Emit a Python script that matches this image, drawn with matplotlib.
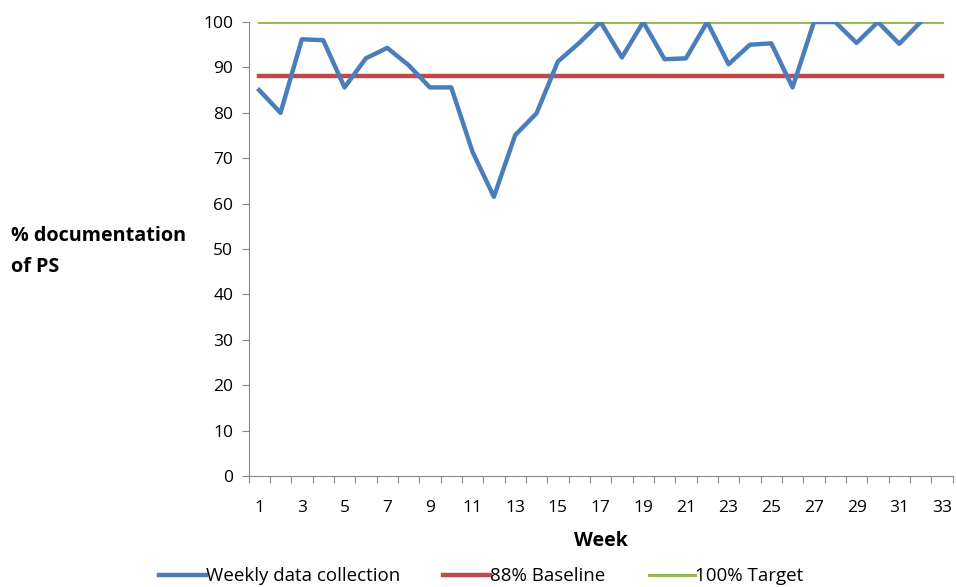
import numpy as np
import matplotlib
matplotlib.use("Agg")
import matplotlib.pyplot as plt
from matplotlib.ticker import FixedLocator

# 資料
weeks = list(range(1, 34))
weekly = [85.0, 80.0, 96.2, 96.0, 85.6, 92.0, 94.3, 90.5, 85.6, 85.6,
          71.4, 61.5, 75.1, 79.9, 91.3, 95.4, 100, 92.2, 100, 91.8,
          92.0, 100, 90.7, 95.0, 95.3, 85.6, 100, 100, 95.4, 100,
          95.2, 100]
baseline = [88] * 33
target = [100] * 33

plt.rcParams['font.family'] = ['Open Sans', 'DejaVu Sans']

fig = plt.figure(figsize=(9.57, 5.87), dpi=100)
ax = fig.add_axes([0.2597, 0.189, 0.7357, 0.7735])

l1, = ax.plot(weeks[:len(weekly)], weekly, color="#4A7EBB", lw=3.2,
              solid_joinstyle="round", label="Weekly data collection", zorder=3)
l2, = ax.plot(weeks, baseline, color="#BE4B48", lw=3.2, label="88% Baseline", zorder=2)
l3, = ax.plot(weeks, target, color="#98B954", lw=2.2, label="100% Target", zorder=2)

ax.set_xlim(0.5, 33.5)
ax.set_ylim(0, 100)
ax.set_yticks(range(0, 101, 10))

# 類別軸：刻度線在類別之間，標籤在奇數週
ax.xaxis.set_major_locator(FixedLocator(np.arange(0.5, 34, 1)))
ax.xaxis.set_major_formatter(plt.NullFormatter())
ax.xaxis.set_minor_locator(FixedLocator(weeks[::2]))
ax.set_xticklabels([str(w) for w in weeks[::2]], minor=True)
ax.tick_params(axis="x", which="major", direction="out", length=5, color="#888888")
ax.tick_params(axis="x", which="minor", length=0, pad=17, labelsize=12.5)
ax.tick_params(axis="y", direction="out", length=5, color="#888888", labelsize=12.5, pad=6)

for s in ["top", "right"]:
    ax.spines[s].set_visible(False)
for s in ["left", "bottom"]:
    ax.spines[s].set_color("#888888")

ax.set_xlabel("Week", fontsize=14, fontweight="bold", labelpad=11)
fig.text(0.012, 0.5716, "% documentation\nof PS", fontsize=14.2, fontweight="bold",
         ha="left", va="center", linespacing=1.75)

fig.legend(handles=[l1, l2, l3], loc="center", bbox_to_anchor=(0.503, 0.018),
           ncol=3, frameon=False, fontsize=13.5, handlelength=2.5,
           handletextpad=0.0, columnspacing=2.3)

fig.savefig("out.png", dpi=100)
